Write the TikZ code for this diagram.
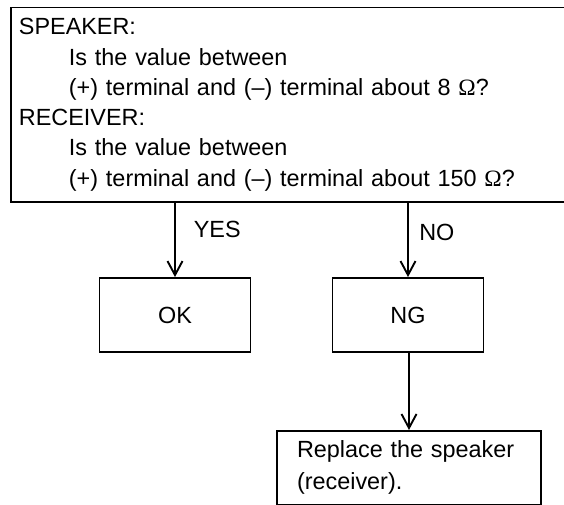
\documentclass[tikz,border=0pt]{standalone}
\usepackage{fontspec}
\setmainfont{Liberation Sans}
\newfontfamily\omegafont{Liberation Serif}
\usetikzlibrary{arrows.meta,positioning}

\newcommand{\ohm}{{\omegafont Ω}}

\tikzset{
  box/.style={draw,line width=1.9pt,inner sep=0pt,font=\fontsize{23.4}{30.3}\selectfont},
  arr/.style={-{Straight Barb[length=14pt,width=15pt]},line width=1.9pt},
  lbl/.style={font=\fontsize{23.4}{28}\selectfont}
}

\begin{document}
\begin{tikzpicture}[x=1pt,y=-1pt]
  \useasboundingbox (0,0) rectangle (564,504);

  % Question box
  \node[box,anchor=north west,align=left,text width=540pt,
        inner xsep=8pt,inner ysep=11pt] (q) at (10,6.5)
    {SPEAKER:\\
     \hspace*{50pt}Is the value between\\
     \hspace*{50pt}(+) terminal and (–) terminal about 8 \ohm?\\
     RECEIVER:\\
     \hspace*{50pt}Is the value between\\
     \hspace*{50pt}(+) terminal and (–) terminal about 150 \ohm?};

  % Results
  \node[box,minimum width=151pt,minimum height=74pt] (ok) at (175,315) {OK};
  \node[box,minimum width=151pt,minimum height=74pt] (ng) at (408,315) {NG};

  % Action
  \node[box,anchor=north,align=left,text width=224pt,
        inner xsep=20pt,inner ysep=10pt,
        font=\fontsize{23.4}{32}\selectfont] (fix) at (409,430)
    {Replace the speaker\\(receiver).};

  % Arrows
  \draw[arr] (q.south -| ok.north) -- node[lbl,pos=0.36,anchor=west,xshift=14.5pt] (yes) {YES} (ok.north);
  \draw[arr] (q.south -| ng.north) -- node[lbl,pos=0.40,anchor=west,xshift=7pt] (no) {NO} (ng.north);
  \draw[arr] (ng.south -| fix.north) -- (fix.north);
\end{tikzpicture}
\end{document}
